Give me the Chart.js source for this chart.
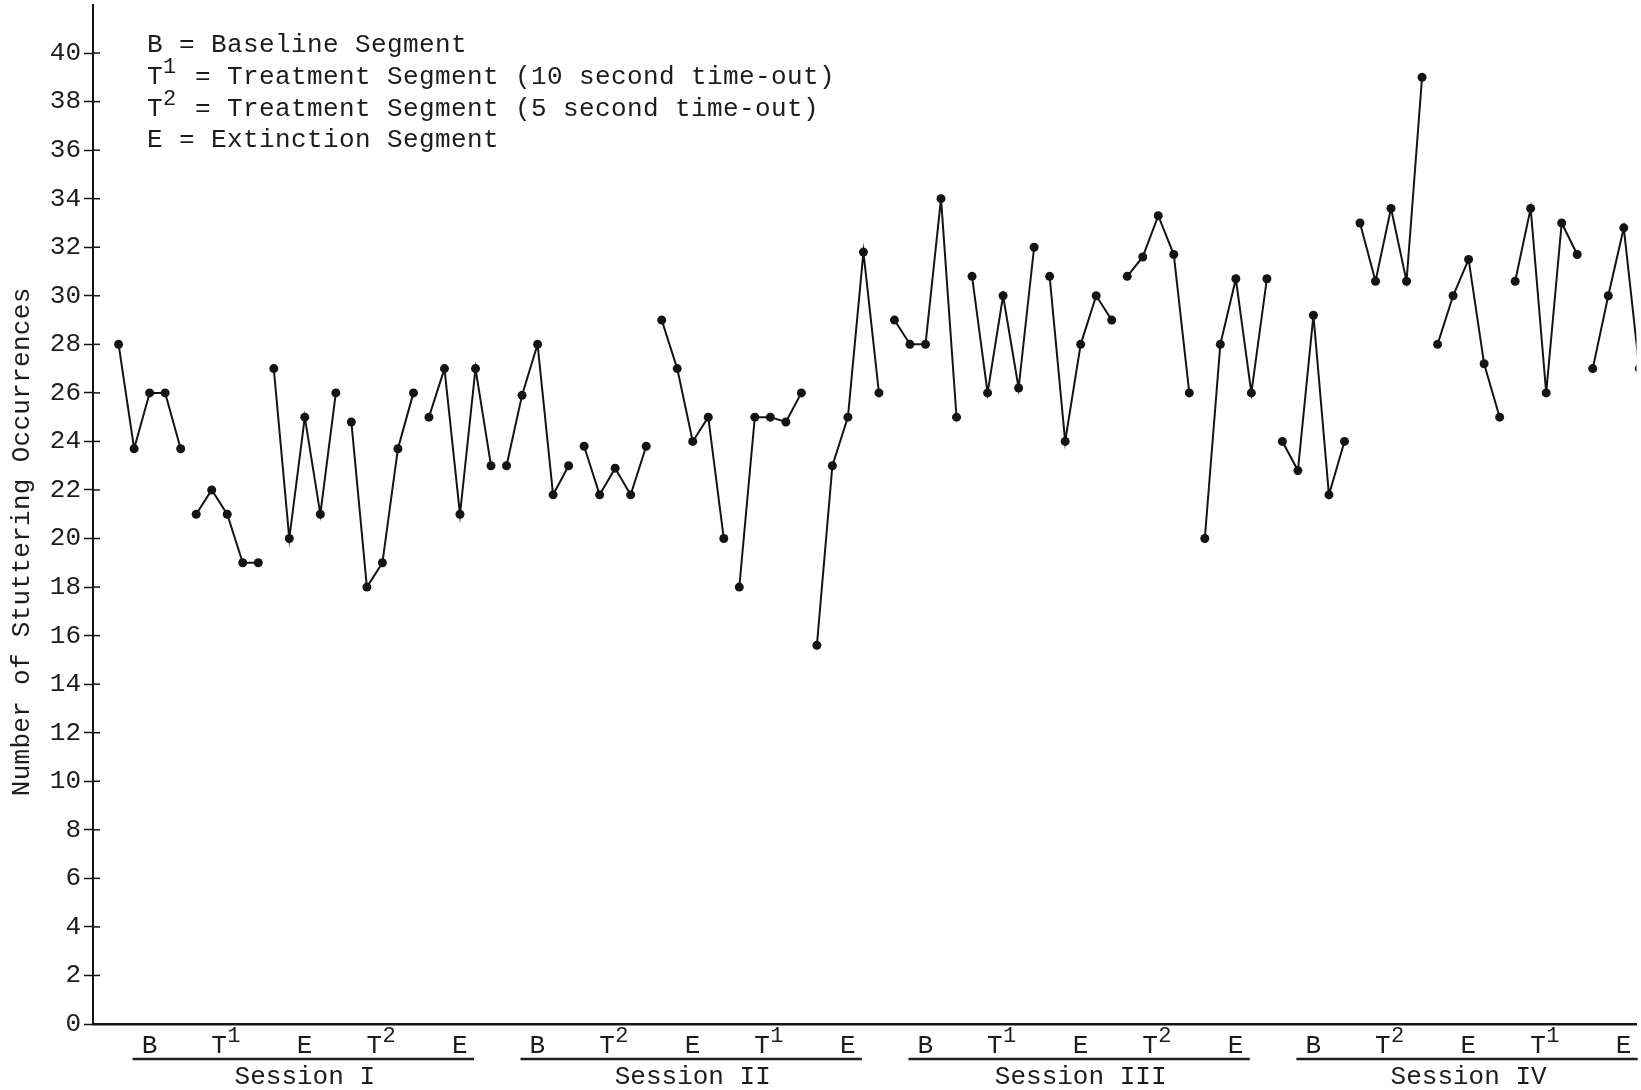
<!DOCTYPE html>
<html>
<head>
<meta charset="utf-8">
<script src="https://cdn.jsdelivr.net/npm/chart.js@4.4.1/dist/chart.umd.min.js"></script>
<style>
  html, body { margin: 0; padding: 0; background: #ffffff; }
  canvas { display: block; }
</style>
</head>
<body>
<canvas id="chart" width="1641" height="1090"></canvas>
<script>
// ---- data: stuttering occurrences per trial, 5 trials per segment ----
const sessionNames = ['Session I', 'Session II', 'Session III', 'Session IV'];
const segmentOrder = [
  ['B', 'T^1', 'E', 'T^2', 'E'],
  ['B', 'T^2', 'E', 'T^1', 'E'],
  ['B', 'T^1', 'E', 'T^2', 'E'],
  ['B', 'T^2', 'E', 'T^1', 'E']
];
const session1 = [
  [28, 23.7, 26, 26, 23.7],
  [21, 22, 21, 19, 19],
  [27, 20, 25, 21, 26],
  [24.8, 18, 19, 23.7, 26],
  [25, 27, 21, 27, 23]
];
const session2 = [
  [23, 25.9, 28, 21.8, 23],
  [23.8, 21.8, 22.9, 21.8, 23.8],
  [29, 27, 24, 25, 20],
  [18, 25, 25, 24.8, 26],
  [15.6, 23, 25, 31.8, 26]
];
const session3 = [
  [29, 28, 28, 34, 25],
  [30.8, 26, 30, 26.2, 32],
  [30.8, 24, 28, 30, 29],
  [30.8, 31.6, 33.3, 31.7, 26],
  [20, 28, 30.7, 26, 30.7]
];
const session4 = [
  [24, 22.8, 29.2, 21.8, 24],
  [33, 30.6, 33.6, 30.6, 39],
  [28, 30, 31.5, 27.2, 25],
  [30.6, 33.6, 26, 33, 31.7],
  [27, 30, 32.8, 27]
];
const yTickValues = [0, 2, 4, 6, 8, 10, 12, 14, 16, 18, 20, 22, 24, 26, 28, 30, 32, 34, 36, 38, 40];
const keyLines = [
  'B = Baseline Segment',
  'T^1 = Treatment Segment (10 second time-out)',
  'T^2 = Treatment Segment (5 second time-out)',
  'E = Extinction Segment'
];
const yTitle = 'Number of Stuttering Occurrences';

const sessions = [session1, session2, session3, session4];
const trialsPerSegment = 5;
const segmentsPerSession = 5;
const trialsPerSession = trialsPerSegment * segmentsPerSession;

// ---- look ----
const INK = '#141414';
const TEXT = '#1c1c1c';
const FAMILY = "'Liberation Mono', 'DejaVu Sans Mono', monospace";
const FONT_SIZE = 26;
const CELL = 16;          // typewriter pitch in px

// one line per segment, so segments are never joined to each other
const datasets = [];
sessions.forEach((segs, s) => {
  segs.forEach((vals, g) => {
    datasets.push({
      data: vals.map((v, k) => ({ x: s * trialsPerSession + g * trialsPerSegment + k, y: v })),
      borderColor: INK,
      backgroundColor: INK,
      borderWidth: 2,
      pointRadius: 4.5,
      pointBorderWidth: 0,
      pointBackgroundColor: INK,
      tension: 0
    });
  });
});

const segmentCenters = [];
const segmentNames = [];
const sessionCenters = [];
sessions.forEach((segs, s) => {
  segmentOrder[s].forEach((name, g) => {
    segmentCenters.push(s * trialsPerSession + g * trialsPerSegment + (trialsPerSegment - 1) / 2);
    segmentNames.push(name);
  });
  sessionCenters.push(s * trialsPerSession + (trialsPerSession - 1) / 2);
});

// typewriter-style text: "^" raises the next character; fixed cell width
function typedLength(str) { return str.replace(/\^/g, '').length; }
function drawTyped(ctx, str, x, baseline, size, cell) {
  let col = 0;
  for (let i = 0; i < str.length; i++) {
    let ch = str[i];
    if (ch === '^') {
      ch = str[++i];
      ctx.font = Math.round(size * 0.85) + 'px ' + FAMILY;
      ctx.fillText(ch, x + col * cell, baseline - size * 0.42);
    } else {
      ctx.font = size + 'px ' + FAMILY;
      ctx.fillText(ch, x + col * cell, baseline);
    }
    col++;
  }
}

const paperPlugin = {
  id: 'paper',
  beforeDraw(chart) {
    const ctx = chart.ctx;
    ctx.save();
    ctx.fillStyle = '#ffffff';
    ctx.fillRect(0, 0, chart.width, chart.height);
    ctx.restore();
  },
  afterDraw(chart) {
    const { ctx, chartArea, scales } = chart;
    const x = scales.x, y = scales.y;
    ctx.save();
    // tick marks cross the vertical axis
    ctx.strokeStyle = INK;
    ctx.lineWidth = 1.5;
    y.ticks.forEach(t => {
      const py = y.getPixelForValue(t.value);
      ctx.beginPath();
      ctx.moveTo(chartArea.left, py);
      ctx.lineTo(chartArea.left + 7, py);
      ctx.stroke();
    });

    ctx.fillStyle = TEXT;
    ctx.textBaseline = 'alphabetic';
    ctx.textAlign = 'left';

    // segment letters under the axis
    const letterBase = x.top + 29;
    x.ticks.forEach((t, i) => {
      const name = segmentNames[i];
      const w = typedLength(name) * CELL;
      drawTyped(ctx, name, x.getPixelForValue(t.value) - w / 2, letterBase, FONT_SIZE, CELL);
    });

    // typed underline beneath each session's segment letters
    const uy = x.bottom - 5;
    ctx.lineWidth = 2.6;
    ctx.strokeStyle = '#1e1e1e';
    sessions.forEach((_, s) => {
      const first = s * trialsPerSession + (trialsPerSegment - 1) / 2;
      const last = first + (segmentsPerSession - 1) * trialsPerSegment;
      ctx.beginPath();
      ctx.moveTo(x.getPixelForValue(first - 1.1), uy);
      ctx.lineTo(x.getPixelForValue(last + 0.9), uy);
      ctx.stroke();
    });

    // key
    keyLines.forEach((line, i) => {
      drawTyped(ctx, line, 147, 52 + i * 31.8, FONT_SIZE, CELL);
    });

    // vertical axis title
    const titleLen = typedLength(yTitle) * CELL;
    const midY = (chartArea.top + chartArea.bottom) / 2 + 26;
    ctx.translate(29, midY + titleLen / 2);
    ctx.rotate(-Math.PI / 2);
    drawTyped(ctx, yTitle, 0, 0, FONT_SIZE, 15.9);
    ctx.restore();
  }
};

Chart.defaults.font.family = FAMILY;
Chart.defaults.color = TEXT;

new Chart(document.getElementById('chart'), {
  type: 'line',
  data: { datasets },
  plugins: [paperPlugin],
  options: {
    responsive: false,
    animation: false,
    devicePixelRatio: 1,
    layout: { padding: { top: 3, right: 0, bottom: 0, left: 0 } },
    plugins: { legend: { display: false }, tooltip: { enabled: false } },
    scales: {
      x: {
        type: 'linear',
        position: 'bottom',
        weight: 0,
        min: -1.65,
        max: 97.82,
        grid: { display: false, drawTicks: false },
        border: { display: true, color: INK, width: 2.5 },
        afterBuildTicks(scale) { scale.ticks = segmentCenters.map(v => ({ value: v })); },
        afterFit(scale) { scale.height = 40; scale.paddingLeft = 0; scale.paddingRight = 0; },
        ticks: {
          display: false,
          autoSkip: false,
          maxRotation: 0
        }
      },
      session: {
        type: 'linear',
        position: 'bottom',
        weight: 1,
        min: -1.65,
        max: 97.82,
        grid: { display: false, drawTicks: false },
        border: { display: false },
        afterBuildTicks(scale) { scale.ticks = sessionCenters.map(v => ({ value: v })); },
        afterFit(scale) { scale.height = 26; scale.paddingLeft = 0; scale.paddingRight = 0; },
        ticks: {
          autoSkip: false,
          maxRotation: 0,
          padding: 0,
          color: TEXT,
          font: { size: FONT_SIZE, lineHeight: 1 },
          callback: (v, i) => sessionNames[i]
        }
      },
      y: {
        type: 'linear',
        min: 0,
        max: 42,
        grid: { drawOnChartArea: false, drawTicks: true, tickLength: 9, tickWidth: 1.5, tickColor: INK },
        border: { display: true, color: INK, width: 2 },
        afterBuildTicks(scale) { scale.ticks = yTickValues.map(v => ({ value: v })); },
        afterFit(scale) { scale.width = 93; scale.paddingTop = 0; scale.paddingBottom = 0; },
        ticks: {
          padding: 3,
          color: TEXT,
          font: { size: FONT_SIZE, lineHeight: 1 }
        }
      }
    }
  }
});
</script>
</body>
</html>
